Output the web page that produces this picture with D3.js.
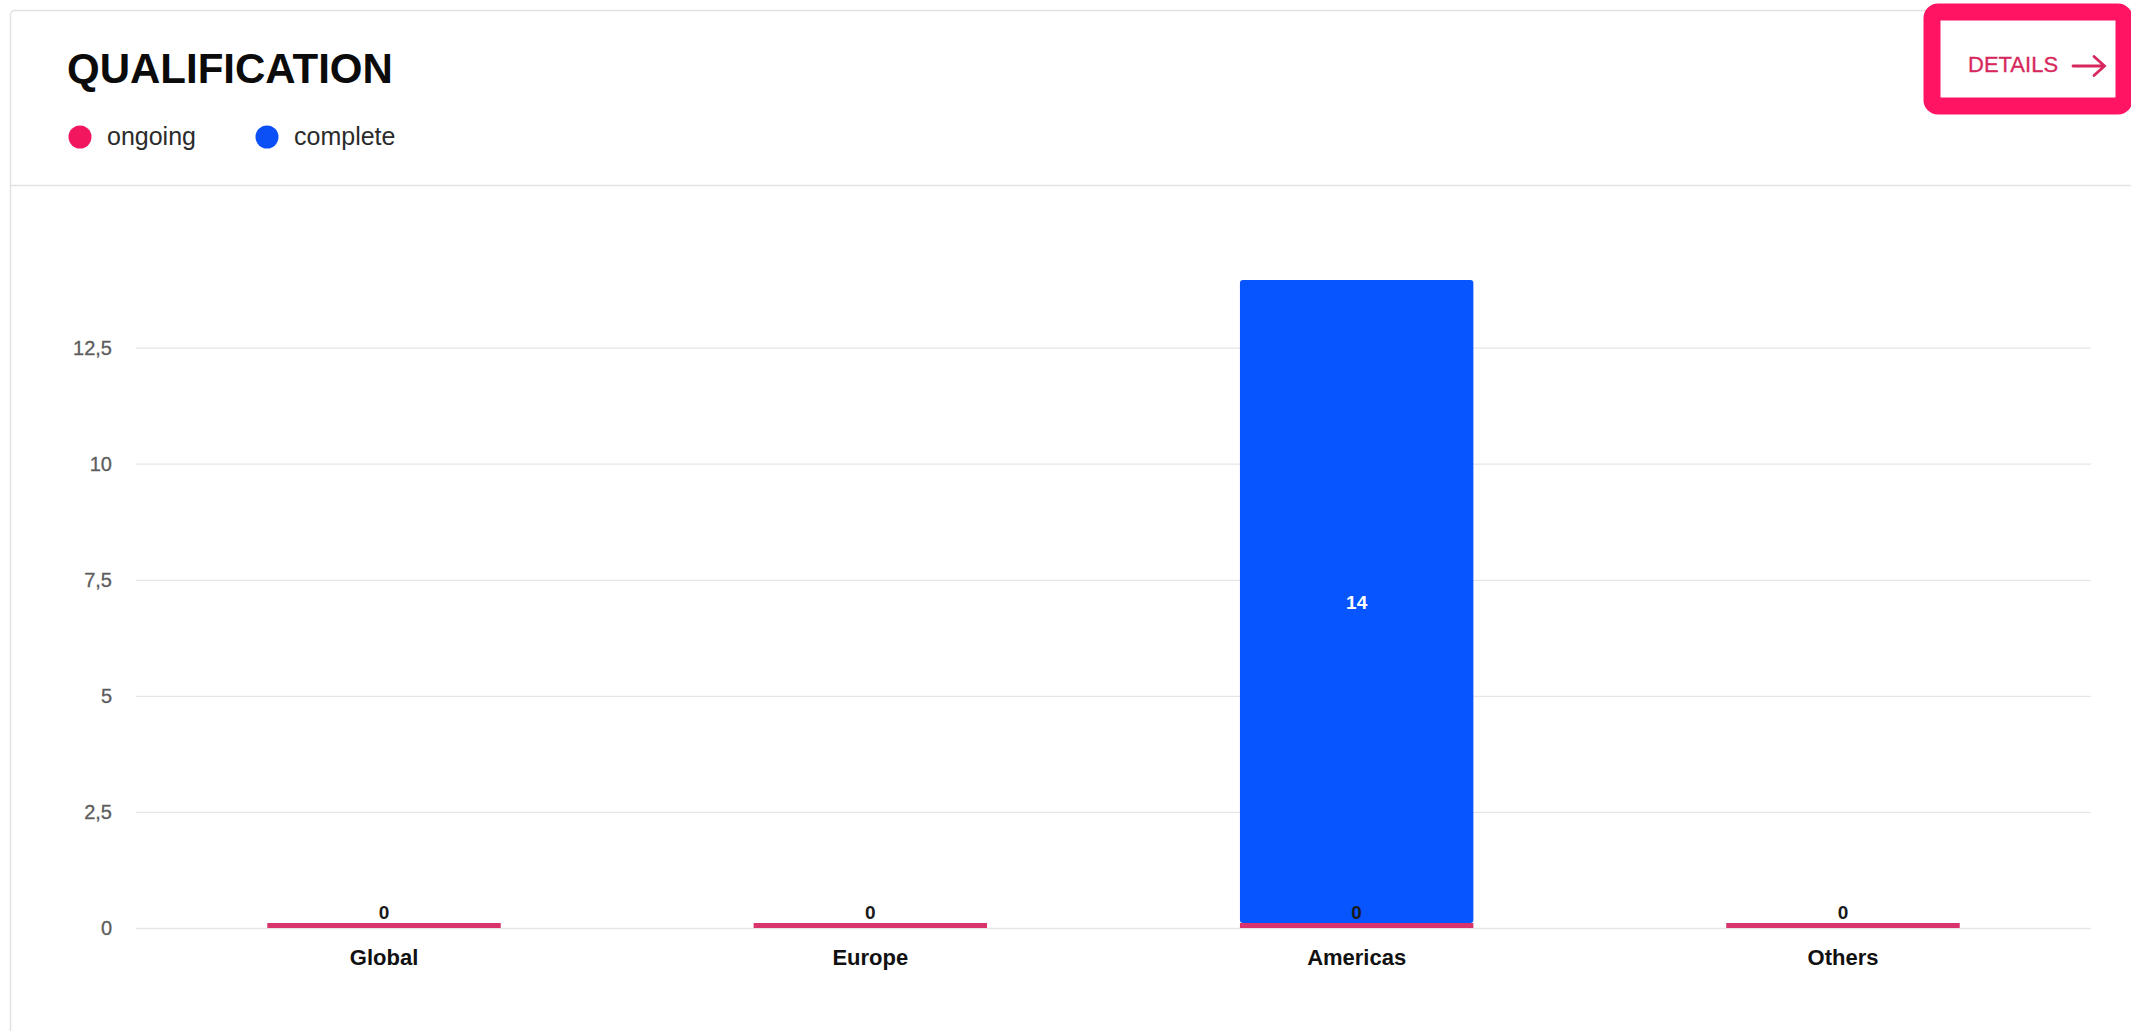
<!DOCTYPE html>
<html>
<head>
<meta charset="utf-8" />
<title>Qualification</title>
<script src="https://cdn.jsdelivr.net/npm/d3@7"></script>
<style>
	body {
		margin: 0;
		background: #fff;
		font-family: 'Liberation Sans', Arial, sans-serif;
	}
</style>
</head>
<body>
<div id="chart"></div>
<script>
const categories = ['Global', 'Europe', 'Americas', 'Others']
const ongoing = [0, 0, 0, 0]
const complete = [0, 0, 14, 0]
const yTicks = [0, 2.5, 5, 7.5, 10, 12.5]
const seriesNames = ['ongoing', 'complete']

const fullWidth = 2131
const fullHeight = 1031
const margin = {top: 278, right: 40, bottom: 103, left: 136}

const colors = {
	ongoing: '#d8336d',
	complete: '#0655ff',
	legendOngoing: '#f2165f',
	legendComplete: '#0b50f7',
	accent: '#ff1463',
}

const svg = d3
	.select('#chart')
	.append('svg')
	.attr('width', fullWidth)
	.attr('height', fullHeight)
	.style('display', 'block')

// card + header
svg
	.append('rect')
	.attr('x', 10.5)
	.attr('y', 10.5)
	.attr('width', fullWidth + 20)
	.attr('height', fullHeight + 20)
	.attr('rx', 4)
	.attr('fill', '#fff')
	.attr('stroke', '#e2e2e2')
	.attr('stroke-width', 1.5)
svg
	.append('line')
	.attr('x1', 11)
	.attr('x2', fullWidth)
	.attr('y1', 185.5)
	.attr('y2', 185.5)
	.attr('stroke', '#e2e2e2')
	.attr('stroke-width', 1.5)

svg
	.append('text')
	.attr('x', 67)
	.attr('y', 83)
	.attr('font-size', 42)
	.attr('font-weight', 'bold')
	.attr('fill', '#0b0b0b')
	.text('QUALIFICATION')

const legend = svg
	.selectAll('.legend')
	.data(seriesNames)
	.enter()
	.append('g')
	.attr('class', 'legend')
	.attr('transform', (d, i) => `translate(${[80, 267][i]}, 137)`)
legend
	.append('circle')
	.attr('r', 11.5)
	.attr('fill', (d) => (d === 'ongoing' ? colors.legendOngoing : colors.legendComplete))
legend
	.append('text')
	.attr('x', 27)
	.attr('y', 8)
	.attr('font-size', 25)
	.attr('fill', '#2b2b2b')
	.text((d) => d)

// details button
svg
	.append('rect')
	.attr('x', 1932)
	.attr('y', 12)
	.attr('width', 192)
	.attr('height', 94)
	.attr('rx', 6)
	.attr('fill', '#fff')
	.attr('stroke', colors.accent)
	.attr('stroke-width', 17)
svg
	.append('text')
	.attr('x', 1968)
	.attr('y', 72)
	.attr('font-size', 22)
	.attr('fill', '#d6285c')
	.attr('stroke', '#d6285c')
	.attr('stroke-width', 0.3)
	.text('DETAILS')
svg
	.append('path')
	.attr('d', 'M2073,66 H2104 M2094,56.5 L2104.5,66 L2094,75.5')
	.attr('fill', 'none')
	.attr('stroke', '#d6285c')
	.attr('stroke-width', 2.8)
	.attr('stroke-linecap', 'round')

// chart
const x = d3
	.scaleBand()
	.domain(categories)
	.range([margin.left, fullWidth - margin.right])
	.paddingInner(0.52)
	.paddingOuter(0.27)

const y = d3
	.scaleLinear()
	.domain([0, 14])
	.range([fullHeight - margin.bottom, margin.top])

const fmt = (v) => String(v).replace('.', ',')

const grid = svg.append('g').attr('transform', `translate(${margin.left},0)`)
grid
	.call(
		d3
			.axisLeft(y)
			.tickValues(yTicks)
			.tickSize(-(fullWidth - margin.left - margin.right))
			.tickPadding(24)
			.tickFormat(fmt)
	)
	.call((g) => g.select('.domain').remove())
	.call((g) => g.selectAll('.tick line').attr('stroke', '#e6e6e6').attr('stroke-width', 1.3))
	.call((g) =>
		g
			.selectAll('.tick text')
			.attr('font-size', 20)
			.attr('font-family', "'Liberation Sans', Arial, sans-serif")
			.attr('fill', '#5c5c5c')
			.attr('stroke', '#5c5c5c')
			.attr('stroke-width', 0.3)
	)

const minHeight = 5
const rows = categories.map((c, i) => ({category: c, ongoing: ongoing[i], complete: complete[i]}))

const bars = svg.append('g')
rows.forEach((d) => {
	const base = y(0)
	const ongoingTop = Math.min(y(d.ongoing), base - minHeight)
	if (d.complete > 0) {
		const top = y(d.ongoing + d.complete) + 2
		bars
			.append('rect')
			.attr('x', x(d.category))
			.attr('width', x.bandwidth())
			.attr('y', top)
			.attr('height', ongoingTop - top)
			.attr('rx', 3)
			.attr('fill', colors.complete)
		bars
			.append('text')
			.attr('x', x(d.category) + x.bandwidth() / 2)
			.attr('y', (top + ongoingTop) / 2 + 7)
			.attr('text-anchor', 'middle')
			.attr('font-size', 19)
			.attr('font-weight', 'bold')
			.attr('fill', '#fff')
			.text(d.complete)
	}
	bars
		.append('rect')
		.attr('x', x(d.category))
		.attr('width', x.bandwidth())
		.attr('y', ongoingTop)
		.attr('height', base - ongoingTop)
		.attr('fill', colors.ongoing)
	bars
		.append('text')
		.attr('x', x(d.category) + x.bandwidth() / 2)
		.attr('y', ongoingTop - 4)
		.attr('text-anchor', 'middle')
		.attr('font-size', 19)
		.attr('font-weight', 'bold')
		.attr('fill', '#1a1a1a')
		.text(d.ongoing)
})

const xAxis = svg.append('g').attr('transform', `translate(0,${y(0)})`)
xAxis
	.call(d3.axisBottom(x).tickSize(0).tickPadding(21))
	.call((g) => g.select('.domain').remove())
	.call((g) =>
		g
			.selectAll('.tick text')
			.attr('font-size', 22)
			.attr('font-weight', 'bold')
			.attr('font-family', "'Liberation Sans', Arial, sans-serif")
			.attr('fill', '#111')
	)
</script>
</body>
</html>
